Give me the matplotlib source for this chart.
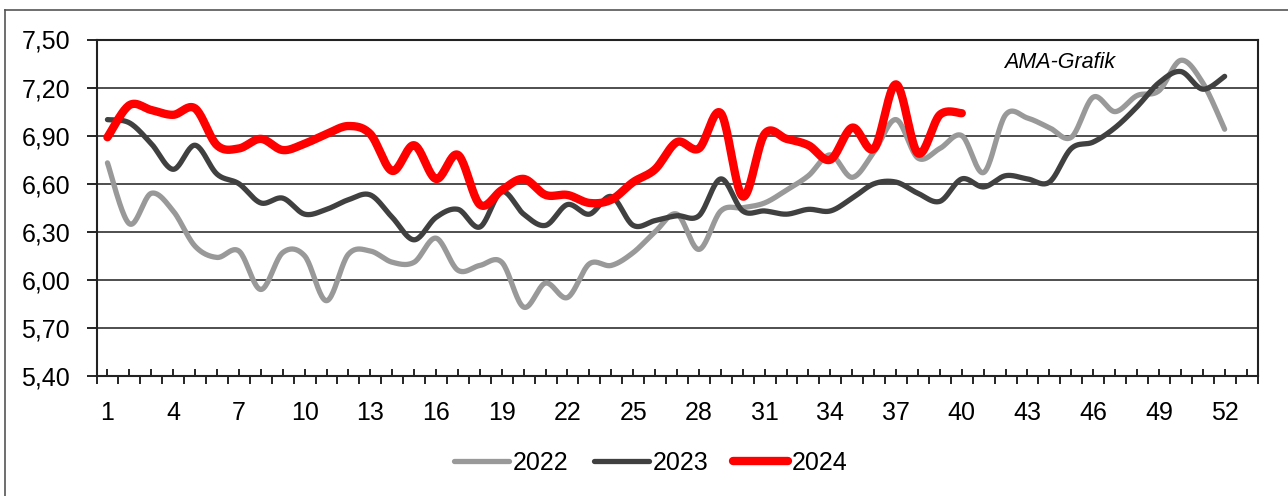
import numpy as np
import matplotlib
matplotlib.use("Agg")
import matplotlib.pyplot as plt
from matplotlib.lines import Line2D

plt.rcParams['font.family'] = ['Liberation Sans', 'DejaVu Sans']

weeks_2022 = list(range(1, 53))
values_2022 = [6.73, 6.35, 6.54, 6.43, 6.21, 6.14, 6.18, 5.94, 6.17, 6.15,
               5.87, 6.16, 6.18, 6.11, 6.11, 6.26, 6.06, 6.09, 6.11, 5.83,
               5.98, 5.89, 6.10, 6.09, 6.17, 6.30, 6.41, 6.19, 6.43, 6.45,
               6.48, 6.56, 6.65, 6.78, 6.64, 6.80, 7.00, 6.76, 6.82, 6.90,
               6.67, 7.03, 7.01, 6.95, 6.89, 7.14, 7.05, 7.15, 7.18, 7.37,
               7.23, 6.94]
weeks_2023 = list(range(1, 53))
values_2023 = [7.00, 6.98, 6.85, 6.69, 6.84, 6.66, 6.60, 6.48, 6.51, 6.41,
               6.44, 6.50, 6.53, 6.39, 6.25, 6.39, 6.44, 6.33, 6.55, 6.41,
               6.34, 6.47, 6.41, 6.52, 6.34, 6.37, 6.40, 6.40, 6.63, 6.43,
               6.43, 6.41, 6.44, 6.43, 6.51, 6.60, 6.61, 6.54, 6.49, 6.63,
               6.58, 6.65, 6.63, 6.61, 6.82, 6.86, 6.95, 7.08, 7.23, 7.30,
               7.19, 7.27]
weeks_2024 = list(range(1, 41))
values_2024 = [6.89, 7.09, 7.06, 7.03, 7.07, 6.84, 6.82, 6.88, 6.81, 6.85,
               6.91, 6.96, 6.91, 6.68, 6.84, 6.63, 6.78, 6.47, 6.56, 6.63,
               6.53, 6.53, 6.48, 6.50, 6.61, 6.69, 6.86, 6.82, 7.04, 6.52,
               6.91, 6.88, 6.84, 6.75, 6.95, 6.82, 7.22, 6.79, 7.03, 7.04]

series_labels = ["2022", "2023", "2024"]
y_ticks = [5.40, 5.70, 6.00, 6.30, 6.60, 6.90, 7.20, 7.50]
x_tick_labels = list(range(1, 53, 3))
n_categories = 53


def smooth(x, y, n=24):
    x = np.asarray(x, float)
    y = np.asarray(y, float)
    P = np.column_stack([x, y])
    out = [P[0]]
    t = np.linspace(0, 1, n)[1:]
    for i in range(len(P) - 1):
        p0 = P[i - 1] if i > 0 else P[i]
        p1 = P[i]
        p2 = P[i + 1]
        p3 = P[i + 2] if i + 2 < len(P) else P[i + 1]
        b1 = p1 + (p2 - p0) / 6.0
        b2 = p2 - (p3 - p1) / 6.0
        tt = t[:, None]
        seg = ((1 - tt) ** 3) * p1 + 3 * ((1 - tt) ** 2) * tt * b1 + \
            3 * (1 - tt) * tt ** 2 * b2 + tt ** 3 * p2
        out.extend(seg)
    out = np.array(out)
    return out[:, 0], out[:, 1]


fig = plt.figure(figsize=(12.88, 4.96), dpi=100)
W, H = 1288, 496
ax = fig.add_axes([96.5 / W, 1 - 376 / H, (1257.5 - 96.5) / W, (376 - 39.5) / H])

colors = ["#999999", "#404040", "#ff0000"]
widths = [3.8, 3.8, 6.0]
for xs, ys, c, lw, lab in zip([weeks_2022, weeks_2023, weeks_2024],
                              [values_2022, values_2023, values_2024],
                              colors, widths, series_labels):
    sx, sy = smooth(xs, ys)
    ax.plot(sx, sy, color=c, lw=lw, label=lab, solid_capstyle='round',
            solid_joinstyle='round', zorder=3)

ax.set_xlim(0.5, n_categories + 0.5)
ax.set_ylim(5.40, 7.50)
ax.set_yticks(y_ticks)
ax.set_yticklabels([f"{v:.2f}".replace(".", ",") for v in y_ticks])
for v in y_ticks[1:-1]:
    ax.axhline(v, color="#404040", lw=1.3, zorder=1)

cats = np.arange(1, n_categories + 1)
ax.set_xticks(cats)
ax.set_xticklabels([str(c) if c in x_tick_labels else "" for c in cats])
ax.set_xticks(np.arange(0.5, n_categories + 1), minor=True)
ax.tick_params(axis='x', which='major', direction='in', length=5, width=1.2,
               pad=18, labelsize=18, colors='black')
ax.tick_params(axis='x', which='minor', direction='out', length=6, width=1.2)
ax.tick_params(axis='y', which='major', direction='out', length=7, width=1.2,
               pad=12, labelsize=18)
for s in ax.spines.values():
    s.set_linewidth(1.5)
    s.set_color('#222222')

ax.text(1060, 62, "AMA-Grafik", transform=None, fontsize=15.5, style='italic',
        ha='center', va='center')
# use pixel coordinates for the annotation
ax.texts[-1].set_transform(matplotlib.transforms.IdentityTransform())
ax.texts[-1].set_position((1060, H - 62))

leg = fig.legend(loc='center', bbox_to_anchor=(651 / W, 1 - 463 / H), ncol=3,
                 frameon=False, fontsize=18, handlelength=2.2,
                 handletextpad=0.15, columnspacing=1.0)

fig.add_artist(Line2D([4.5 / W, 4.5 / W], [0, 1 - 10 / H], color='#555555',
                      lw=1.2, transform=fig.transFigure))
fig.add_artist(Line2D([4.5 / W, 1.0], [1 - 10 / H, 1 - 10 / H], color='#555555',
                      lw=1.2, transform=fig.transFigure))

fig.savefig("out.png", dpi=100)
